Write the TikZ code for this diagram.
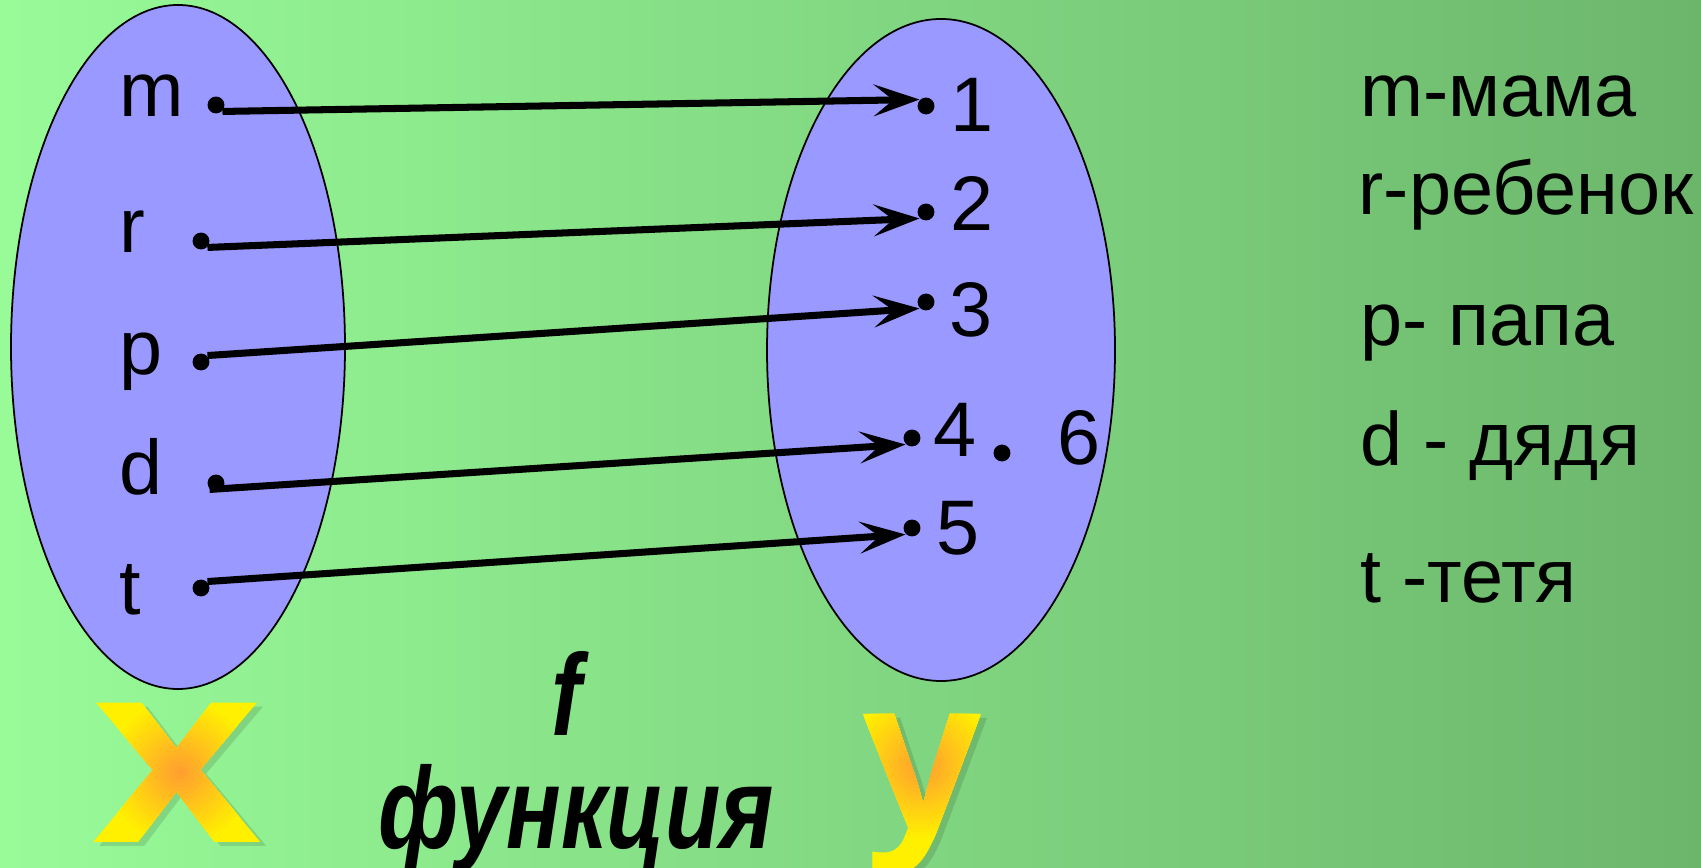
\documentclass[tikz,border=0pt]{standalone}
\usepackage{fontspec}
\setmainfont{Liberation Sans}
\usepackage{tikz}
\usetikzlibrary{arrows.meta}
\definecolor{bgleft}{RGB}{152,251,152}
\definecolor{bgright}{RGB}{108,182,108}
\definecolor{setblue}{RGB}{153,153,255}
\definecolor{wordyellow}{RGB}{255,240,0}
\definecolor{wordorange}{RGB}{255,155,50}
\tikzset{
    setbody/.style={draw=black, line width=0.5pt, fill=setblue},
    elem/.style={circle, fill=black, inner sep=0pt, minimum size=4.8pt},
    lbl/.style={font=\fontsize{22}{26}\selectfont, inner sep=0pt, anchor=base west},
    key/.style={lbl, font=\fontsize{21.5}{26}\selectfont},
    map/.style={-{Stealth[length=13pt, width=9pt, inset=5.5pt]}, line width=2pt},
    fname/.style={font=\fontsize{33}{38}\selectfont\bfseries\itshape, inner sep=0pt, anchor=base, xscale=0.78},
    xletter/.style={font=\fontsize{75}{80}\selectfont\bfseries, inner sep=0pt, xscale=1.17},
    yletter/.style={font=\fontsize{62}{66}\selectfont\bfseries, inner sep=0pt},
    letshadow/.style={text=black, opacity=0.12}
}

\begin{document}
\begin{tikzpicture}[x=0.01cm, y=-0.01cm]
    \useasboundingbox (0,0) rectangle (1701,868);
    \shade[left color=bgleft, right color=bgright] (0,0) rectangle (1701,868);
    % the two sets
    \draw[setbody] (178,347) ellipse [x radius=167, y radius=342];
    \draw[setbody] (941,350) ellipse [x radius=174, y radius=331];
    % elements of X
    \node[lbl] (lm) at (119,117) {m};
    \node[lbl] (lr) at (119,253) {r};
    \node[lbl] (lp) at (119,375) {p};
    \node[lbl] (ld) at (119,495) {d};
    \node[lbl] (lt) at (119,615) {t};
    \node[elem] (em) at (216,105) {};
    \node[elem] (er) at (201,241) {};
    \node[elem] (ep) at (201,362) {};
    \node[elem] (ed) at (216,483) {};
    \node[elem] (et) at (201,588) {};
    % elements of Y
    \node[elem] (e1) at (926,106) {};
    \node[elem] (e2) at (926,212) {};
    \node[elem] (e3) at (926,302) {};
    \node[elem] (e4) at (912,438) {};
    \node[elem] (e5) at (912,528) {};
    \node[elem] (e6) at (1002,453) {};
    \node[lbl] (n1) at (950,132) {1};
    \node[lbl] (n2) at (950,231) {2};
    \node[lbl] (n3) at (949,337) {3};
    \node[lbl] (n4) at (933,457) {4};
    \node[lbl] (n5) at (936,555) {5};
    \node[lbl] (n6) at (1057,465) {6};
    % the mapping f
    \draw[map] (em.south east) -- (e1.north west);
    \draw[map] (er.south east) -- (e2.south west);
    \draw[map] (ep.north east) -- (e3.south west);
    \draw[map] (ed.south west) -- (e4.south west);
    \draw[map] (et.north east) -- (e5.south west);
    % legend
    \node[key] (km) at (1360,117) {m-мама};
    \node[key] (kr) at (1358,215) {r-ребенок};
    \node[key] (kp) at (1360,346) {p- папа};
    \node[key] (kd) at (1360,466) {d - дядя};
    \node[key] (kt) at (1360,603) {t -тетя};
    % captions
    \node[fname] (fsym) at (567,736) {f};
    \node[fname] (fword) at (576,848) {функция};
    % set names, yellow with an orange glow in the middle
    \node[xletter, letshadow] at (183,777) {x};
    \node[yletter, letshadow] at (928,799) {y};
    \node[xletter, text=wordyellow] (xname) at (177,773) {x};
    \node[yletter, text=wordyellow] (yname) at (922,795) {y};
    \foreach \r in {75,71,...,3}{
        \pgfmathsetmacro\mix{min(100,100*\r/75)}
        \begin{scope}
            \clip (180,772) circle [radius=\r];
            \node[xletter, text=wordyellow!\mix!wordorange] at (xname) {x};
        \end{scope}
        \begin{scope}
            \clip (922,765) circle [radius=\r];
            \node[yletter, text=wordyellow!\mix!wordorange] at (yname) {y};
        \end{scope}
    }
\end{tikzpicture}
\end{document}
